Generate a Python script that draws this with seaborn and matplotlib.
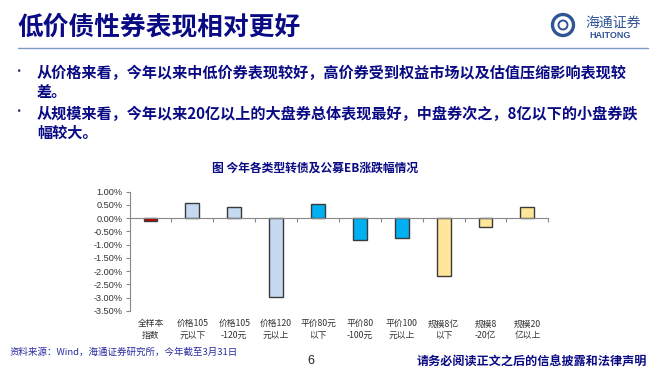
import matplotlib
matplotlib.use("Agg")
import matplotlib.pyplot as plt
from matplotlib.patches import Circle
import pandas as pd
import seaborn as sns

# Dati (variazione % da inizio anno)
categorie = ["全样本\n指数", "价格105\n元以下", "价格105\n-120元", "价格120\n元以上",
             "平价80元\n以下", "平价80\n-100元", "平价100\n元以上", "规模8亿\n以下",
             "规模8\n-20亿", "规模20\n亿以上"]
valori = [-0.12, 0.57, 0.42, -2.97, 0.53, -0.82, -0.74, -2.17, -0.34, 0.42]
colori = ["#C00000", "#C5D9F1", "#C5D9F1", "#C5D9F1", "#00B0F0", "#00B0F0",
          "#00B0F0", "#FFE699", "#FFE699", "#FFE699"]
y_ticks = [1.0, 0.5, 0.0, -0.5, -1.0, -1.5, -2.0, -2.5, -3.0, -3.5]

titolo = "低价债性券表现相对更好"
punti = ["从价格来看，今年以来中低价券表现较好，高价券受到权益市场以及估值压缩影响表现较\n差。",
         "从规模来看，今年以来20亿以上的大盘券总体表现最好，中盘券次之，8亿以下的小盘券跌\n幅较大。"]
titolo_grafico = "图 今年各类型转债及公募EB涨跌幅情况"
fonte = "资料来源：Wind，海通证券研究所，今年截至3月31日"
footer = "请务必阅读正文之后的信息披露和法律声明"

sns.set_theme(style="white")
plt.rcParams["font.family"] = ["Noto Sans CJK SC", "DejaVu Sans"]

NAVY = "#0A0A85"
LOGO = "#2F5597"

fig = plt.figure(figsize=(6.71, 3.75), dpi=100)

# --- intestazione della slide ---
fig.text(17 / 671, 1 - 27 / 375, titolo, fontsize=18.5, fontweight="bold",
         color=NAVY, va="center", ha="left")
fig.add_artist(plt.Line2D([18 / 671, 648 / 671], [1 - 48 / 375, 1 - 48 / 375],
                          color="#7F9BC8", lw=1.0))

# logo (in pollici, così il cerchio resta tondo)
fig.add_artist(Circle((5.63, 3.75 - 0.25), 0.105, transform=fig.dpi_scale_trans,
                      fill=False, ec=LOGO, lw=2.4))
fig.add_artist(Circle((5.63, 3.75 - 0.25), 0.045, transform=fig.dpi_scale_trans,
                      fill=False, ec=LOGO, lw=1.4))
fig.text(613 / 671, 1 - 23 / 375, "海通证券", fontsize=10, color=LOGO,
         ha="center", va="center", fontstyle="italic")
fig.text(610 / 671, 1 - 36 / 375, "HAITONG", fontsize=6.5, color=LOGO,
         ha="center", va="center", fontweight="bold", family="Liberation Sans")

# punti elenco
for y_px, testo in zip([71, 112], punti):
    fig.text(18 / 671, 1 - y_px / 375, "•", fontsize=9, color="#3A2A8A",
             ha="center", va="center")
    fig.text(37 / 671, 1 - (y_px - 6) / 375, testo, fontsize=10.9, fontweight="bold",
             color=NAVY, ha="left", va="top", linespacing=1.2)

# --- grafico ---
ax = fig.add_axes([129.5 / 671, 1 - 311 / 375, (548.3 - 129.5) / 671, (311 - 191.7) / 375])
df = pd.DataFrame({"categoria": categorie, "valore": valori})
sns.barplot(data=df, x="categoria", y="valore", hue="categoria", palette=colori,
            legend=False, width=0.33, edgecolor="#3A3A3A", linewidth=1.0,
            saturation=1, ax=ax)

ax.set_ylim(-3.5, 1.0)
ax.set_xlim(-0.5, len(categorie) - 0.5)
ax.set_yticks(y_ticks)
ax.set_yticklabels([f"{v:.2f}%" for v in y_ticks], family="Liberation Sans",
                   fontsize=6.6, color="#333333")
ax.tick_params(axis="y", length=3, width=0.8, color="#888888", direction="out", pad=2,
               left=True)
ax.set_xlabel("")
ax.set_ylabel("")

for s in ["top", "right"]:
    ax.spines[s].set_visible(False)
ax.spines["left"].set_color("#888888")
ax.spines["left"].set_linewidth(0.8)
ax.spines["bottom"].set_position(("data", 0))
ax.spines["bottom"].set_color("#888888")
ax.spines["bottom"].set_linewidth(0.8)

# tacche ai confini delle categorie sulla linea dello zero
confini = [i - 0.5 for i in range(1, len(categorie) + 1)]
ax.set_xticks(confini)
ax.set_xticklabels([])
ax.tick_params(axis="x", length=3, width=0.8, color="#888888", direction="out",
               bottom=True)

# etichette delle categorie in fondo all'asse
sec = ax.secondary_xaxis("bottom")
sec.set_xticks(range(len(categorie)))
sec.set_xticklabels(categorie, fontsize=6.3, color="#333333", linespacing=1.35)
sec.tick_params(length=0, pad=6)
sec.spines["bottom"].set_visible(False)

fig.text(315 / 671, 1 - 168 / 375, titolo_grafico, fontsize=8.5, fontweight="bold",
         color=NAVY, ha="center", va="center")

# --- piè di pagina ---
fig.text(10 / 671, 1 - 352 / 375, fonte, fontsize=6.8, color="#2A2AA0",
         ha="left", va="center")
fig.text(311 / 671, 1 - 361 / 375, "6", fontsize=9, color="#222222",
         ha="center", va="center", family="Liberation Sans")
fig.text(532 / 671, 1 - 362 / 375, footer, fontsize=8.7, fontweight="bold",
         color=NAVY, ha="center", va="center")

fig.savefig("out.png", dpi=100)
